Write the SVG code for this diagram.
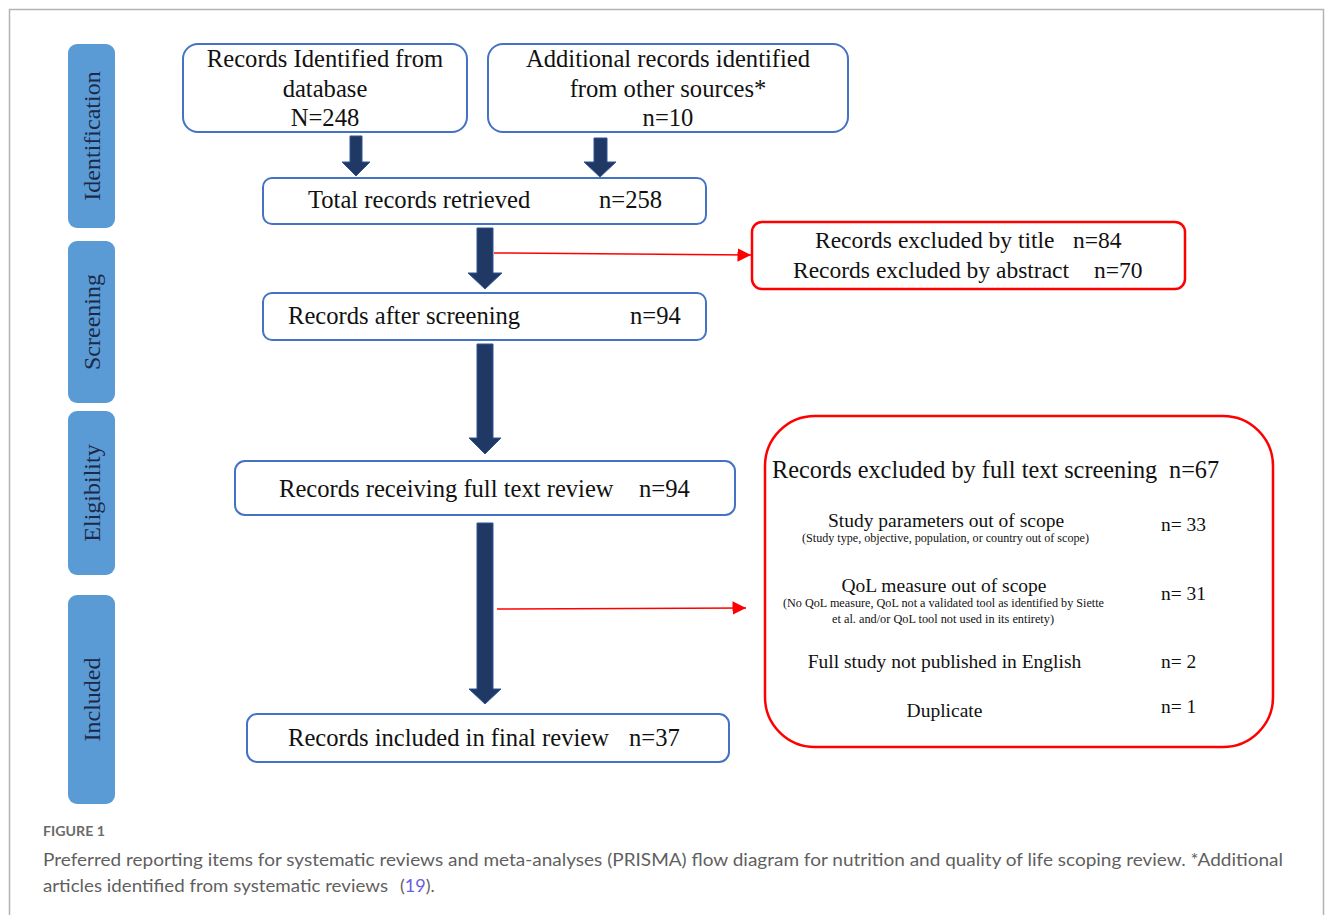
<svg xmlns="http://www.w3.org/2000/svg" width="1333" height="915" viewBox="0 0 1333 915">
<defs>
<style>
.frame{fill:none;stroke:#b3b3b3;stroke-width:1.5}
.side{fill:#5b9bd5}
.sidet{font-family:"Liberation Serif","DejaVu Serif",serif;font-size:24px;fill:#1c2a48;text-anchor:middle}
.box{fill:#fff;stroke:#4472c4;stroke-width:2}
.rbox{fill:#fff;stroke:#ff0000;stroke-width:2.5}
.t{font-family:"Liberation Serif","DejaVu Serif",serif;font-size:24.6px;fill:#111}
.c{text-anchor:middle}
.rt{font-family:"Liberation Serif","DejaVu Serif",serif;font-size:23.5px;fill:#111}
.st{font-family:"Liberation Serif","DejaVu Serif",serif;font-size:19.5px;fill:#111}
.sm{font-family:"Liberation Serif","DejaVu Serif",serif;font-size:12px;fill:#111;text-anchor:middle}
.arr{fill:#203864;stroke:#2f5597;stroke-width:1}
.red{stroke:#ff0000;stroke-width:1.5;fill:none}
.cap{font-family:Lato,"Open Sans","Liberation Sans",sans-serif;fill:#5f5f5f}
</style>
<marker id="rh" viewBox="0 0 10 10" refX="10" refY="5" markerWidth="9" markerHeight="9" markerUnits="strokeWidth" orient="auto">
<path d="M0,0 L10,5 L0,10 z" fill="#ff0000"/>
</marker>
</defs>
<rect width="1333" height="915" fill="#fff"/>
<path class="frame" d="M9.5,915 V9.5 H1323.5 V915"/>

<g id="stage-identification">
<rect class="side" x="68" y="44" width="47" height="184" rx="9"/>
<text class="sidet" transform="translate(100,136) rotate(-90)">Identification</text>
</g>
<g id="stage-screening">
<rect class="side" x="68" y="241" width="47" height="162" rx="9"/>
<text class="sidet" transform="translate(100,322) rotate(-90)">Screening</text>
</g>
<g id="stage-eligibility">
<rect class="side" x="68" y="411" width="47" height="164" rx="9"/>
<text class="sidet" transform="translate(100,493) rotate(-90)">Eligibility</text>
</g>
<g id="stage-included">
<rect class="side" x="68" y="595" width="47" height="209" rx="9"/>
<text class="sidet" transform="translate(100,699.5) rotate(-90)">Included</text>
</g>

<g id="n-database">
<rect class="box" x="183" y="44" width="284" height="88" rx="15"/>
<text class="t c" x="325" y="67">Records Identified from</text>
<text class="t c" x="325" y="97">database</text>
<text class="t c" x="325" y="126">N=248</text>
</g>
<g id="n-other">
<rect class="box" x="488" y="44" width="360" height="88" rx="15"/>
<text class="t c" x="668" y="67">Additional records identified</text>
<text class="t c" x="668" y="97">from other sources*</text>
<text class="t c" x="668" y="126">n=10</text>
</g>
<g id="n-total">
<rect class="box" x="263" y="178" width="443" height="46" rx="9"/>
<text class="t" x="308" y="208">Total records retrieved</text>
<text class="t" x="599" y="208">n=258</text>
</g>
<g id="n-excl1">
<rect class="rbox" x="752" y="222" width="433" height="67" rx="10"/>
<text class="rt" x="815" y="248">Records excluded by title</text>
<text class="rt" x="1073" y="248">n=84</text>
<text class="rt" x="793" y="278">Records excluded by abstract</text>
<text class="rt" x="1094" y="278">n=70</text>
</g>
<g id="n-screened">
<rect class="box" x="263" y="293" width="443" height="47" rx="9"/>
<text class="t" x="288" y="324">Records after screening</text>
<text class="t" x="630" y="324">n=94</text>
</g>
<g id="n-fulltext">
<rect class="box" x="235" y="461" width="500" height="54" rx="10"/>
<text class="t" x="279" y="497">Records receiving full text review</text>
<text class="t" x="639" y="497">n=94</text>
</g>
<g id="n-excl2">
<rect class="rbox" x="765" y="416" width="508" height="331" rx="50"/>
<text class="t" x="772" y="478" style="font-size:24.3px">Records excluded by full text screening</text>
<text class="t" x="1169" y="478" style="font-size:24.3px">n=67</text>
<text class="st c" x="946" y="527">Study parameters out of scope</text>
<text class="sm" x="945.5" y="542" textLength="287" lengthAdjust="spacingAndGlyphs">(Study type, objective, population, or country out of scope)</text>
<text class="st" x="1161" y="531">n= 33</text>
<text class="st c" x="944" y="592">QoL measure out of scope</text>
<text class="sm" x="943.5" y="607" textLength="321" lengthAdjust="spacingAndGlyphs">(No QoL measure, QoL not a validated tool as identified by Siette</text>
<text class="sm" x="943" y="623" textLength="222" lengthAdjust="spacingAndGlyphs">et al. and/or QoL tool not used in its entirety)</text>
<text class="st" x="1161" y="600">n= 31</text>
<text class="st c" x="944.5" y="668">Full study not published in English</text>
<text class="st" x="1161" y="668">n= 2</text>
<text class="st c" x="944.5" y="717">Duplicate</text>
<text class="st" x="1161" y="713">n= 1</text>
</g>
<g id="n-included">
<rect class="box" x="247" y="714" width="482" height="48" rx="10"/>
<text class="t" x="288" y="746">Records included in final review</text>
<text class="t" x="629" y="746">n=37</text>
</g>

<g id="connectors">
<polygon class="arr" points="350,136 362,136 362,162 370,162 356,176 342,162 350,162"/>
<polygon class="arr" points="594,138 607,138 607,162 616,162 600,177 584,162 594,162"/>
<polygon class="arr" points="477,228 493,228 493,273 502,273 485,289 468,273 477,273"/>
<polygon class="arr" points="477,344 493,344 493,438 501,438 485,454 469,438 477,438"/>
<polygon class="arr" points="477,523 493,523 493,689 501,689 485,704 469,689 477,689"/>
<line class="red" x1="494" y1="253" x2="751" y2="255" marker-end="url(#rh)"/>
<line class="red" x1="497" y1="609" x2="746" y2="608" marker-end="url(#rh)"/>
</g>

<g id="caption">
<text class="cap" x="43" y="836" style="font-size:13.5px;font-weight:700;fill:#6a6a6a" textLength="62" lengthAdjust="spacingAndGlyphs">FIGURE 1</text>
<text class="cap" x="43" y="866" style="font-size:18px" textLength="1240" lengthAdjust="spacingAndGlyphs">Preferred reporting items for systematic reviews and meta-analyses (PRISMA) flow diagram for nutrition and quality of life scoping review. *Additional</text>
<text class="cap" x="43" y="892" style="font-size:18px"><tspan textLength="345" lengthAdjust="spacingAndGlyphs">articles identified from systematic reviews</tspan><tspan x="400">(</tspan><tspan fill="#6b5ce7">19</tspan><tspan>).</tspan></text>
</g>
</svg>
